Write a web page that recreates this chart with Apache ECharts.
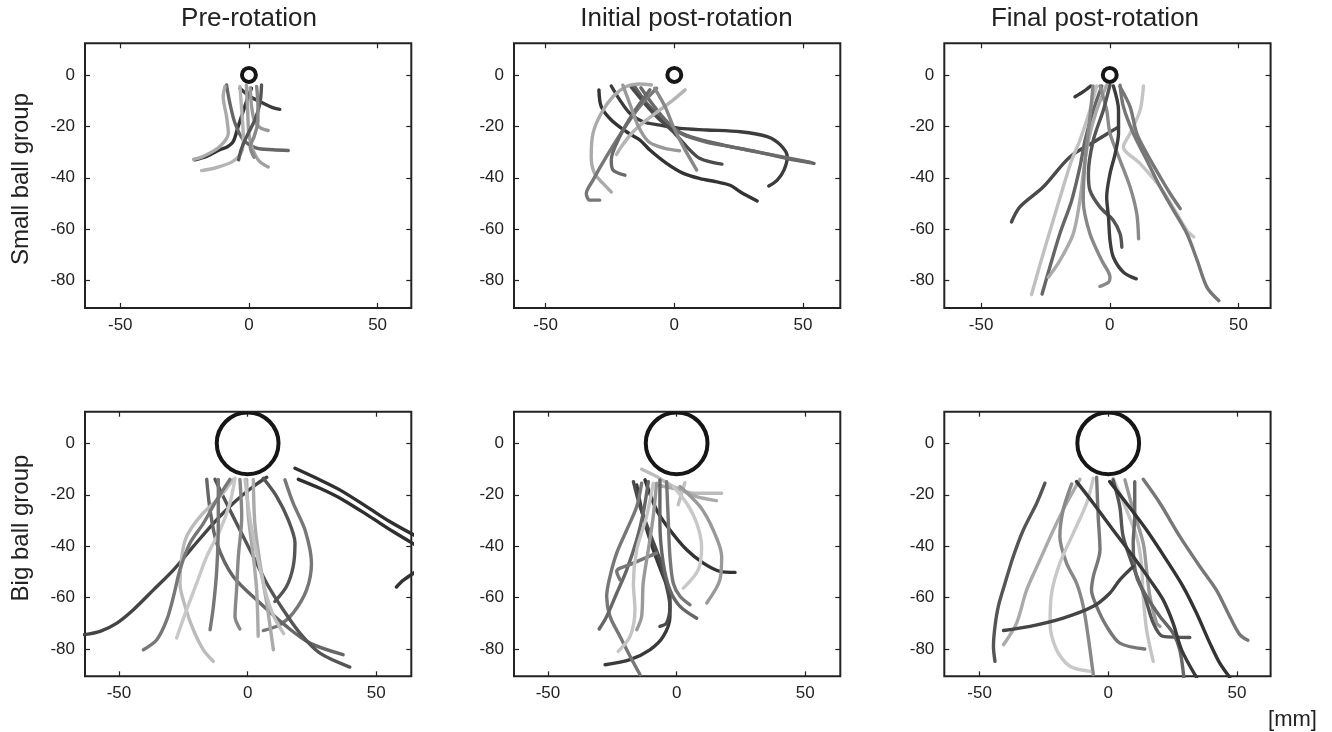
<!DOCTYPE html>
<html>
<head>
<meta charset="utf-8">
<title>Hand trajectories</title>
<script src="https://cdn.jsdelivr.net/npm/echarts@6/dist/echarts.min.js"></script>
<style>
  html, body { margin: 0; padding: 0; background: #ffffff; }
  #chart { width: 1332px; height: 732px; }
</style>
</head>
<body>
<div id="chart"></div>
<script>
// ---- labels and ticks ----
const columnTitles = ['Pre-rotation', 'Initial post-rotation', 'Final post-rotation'];
const rowLabels = ['Small ball group', 'Big ball group'];
const unitLabel = '[mm]';
const xTicks = [-50, 0, 50];
const yTicks = [0, -20, -40, -60, -80];

// ball outline (centre x, centre y, radius in mm) per row
const smallBall = [0, 0, 2.7];
const bigBall = [0, 0, 12];

// ---- trajectories [x mm, y mm] ----
const preSmall = [
  [[1.0,-5.2],[-0.3,-8.5],[-1.6,-12.3],[-3,-16.5],[-4.2,-20.1],[-6.1,-25.9],[-8.5,-28],[-11.3,-29.1],[-16.4,-31.7],[-21,-33]],
  [[-3.5,-5.2],[0.4,-8.4],[5.6,-11],[9,-12.6],[12,-13.4]],
  [[-8.7,-3.9],[-7.4,-11],[-5.4,-18.8],[-2.2,-25.2],[3,-28.5],[9.4,-29.1],[15.3,-29.4]],
  [[-9.3,-4.5],[-10,-8.4],[-8.7,-16.2],[-8,-22.6],[-11.3,-27.8],[-17.8,-31.7],[-21.5,-32.8]],
  [[-3.5,-4.5],[-2.8,-13.6],[-2.2,-24],[-2.8,-29.8],[-6.1,-33.5],[-12.5,-36],[-18.4,-37.2]],
  [[-1,-4],[-0.5,-14],[0,-23],[1.5,-29],[4,-33.5],[7.5,-35.8]],
  [[0.5,-5],[1,-12],[2.2,-18],[4.5,-20.6],[7.5,-21.6]],
  [[4.9,-3.9],[4.3,-11],[2.3,-17.5],[-0.9,-24],[-3,-29],[-4,-33]],
  [[3,-4.5],[3.5,-12],[3.5,-18],[2,-24],[0.5,-28],[2,-32]]
];
const preSmallShade = ['#333333','#3c3c3c','#666666','#aaaaaa','#b4b4b4','#a0a0a0','#999999','#555555','#888888'];

const initSmall = [
  [[-29.3,-5.8],[-28.4,-12.3],[-24.5,-17.5],[-18.6,-22.1],[-13.4,-25.3],[-9.5,-29.2],[-3,-34.4],[3.5,-38.3],[10,-40.3],[16.5,-41.6],[21.7,-42.9],[25.7,-45.5],[32.2,-49]],
  [[-24.5,-4.3],[-21.2,-9.7],[-17.3,-14.9],[-12.1,-18.2],[-5.6,-19.5],[2.2,-20.8],[12.6,-21.4],[25.7,-22.1],[36.1,-24],[41.3,-27.3],[43.9,-31.8],[42.6,-37],[40,-40.9],[36.7,-43.2]],
  [[-15.4,-4.5],[-10.8,-11],[-5.6,-16.2],[-0.4,-20.8],[6.1,-24],[19.1,-27.3],[32.2,-29.9],[43.9,-32.5],[54.3,-34.4]],
  [[-13,-5],[-8,-12],[-3,-18],[3,-23],[12,-26],[25,-28.5],[40,-31.5],[53,-34]],
  [[-16.7,-4.8],[-12.1,-10.4],[-6.9,-16.2],[-0.4,-22.1],[4.8,-27.9],[10,-32.5],[18.5,-34.7]],
  [[-8.9,-3.9],[-13.4,-3.5],[-18.6,-4.5],[-23.8,-8.4],[-28.4,-14.9],[-31.6,-22.7],[-32.3,-31.8],[-31,-38.3],[-27.7,-42.2],[-24.5,-45.5]],
  [[-6.9,-5.2],[-13.4,-12.3],[-19.9,-21.4],[-26.4,-31.8],[-31.6,-40.9],[-34.2,-46.1],[-32.9,-48.7],[-29,-48.7]],
  [[-9.5,-5.8],[-16,-14.9],[-21.2,-24],[-24.5,-33.1],[-23.8,-37],[-19.2,-39]],
  [[4.2,-5.8],[-0.4,-9.7],[-5.6,-13.6],[-10.8,-17.5],[-16,-22.1],[-20.6,-27.9],[-22.5,-31]],
  [[-7.6,-5.2],[-3.6,-12.3],[-0.4,-20.1],[3.5,-27.9],[8.7,-37]],
  [[-20,-4],[-17,-12],[-14,-20],[-10,-26],[-4,-28.5],[2,-29.5]]
];
const initSmallShade = ['#333333','#3c3c3c','#606060','#6a6a6a','#4a4a4a','#aaaaaa','#777777','#6a6a6a','#b4b4b4','#888888','#999999'];

const finalSmall = [
  [[3.4,-20.2],[-5.1,-25.4],[-15.5,-31.9],[-25.9,-43.6],[-35,-51.4],[-38.2,-57.2]],
  [[-13.5,-8.5],[-10.3,-6.5],[-7.4,-4.3]],
  [[-3.1,-4.3],[-6.4,-13.7],[-9.6,-25.4],[-11.6,-35.8],[-14.8,-48.8],[-19.4,-61.8],[-23.3,-74.8],[-26.3,-85.2]],
  [[-5.1,-4.3],[-7.7,-13.7],[-11.6,-25.4],[-14.8,-33.2],[-18.1,-43.6],[-22,-56.6],[-25.9,-69.6],[-28.5,-78.7],[-30.4,-85.4]],
  [[-1.2,-3.9],[-5.1,-13.7],[-8.3,-25.4],[-10.3,-38.4],[-11.6,-48.8],[-14.2,-61.8],[-19.4,-72.2],[-23.9,-78.7]],
  [[-6.5,-4.3],[-7.7,-16.3],[-9.6,-33.2],[-10.3,-48.8],[-7.7,-61.8],[-3.1,-72.2],[0.1,-78.7],[-0.5,-80.6],[-3.8,-82.2]],
  [[13.1,-4.3],[11.8,-13.7],[7.9,-22.8],[5.3,-28],[11.8,-34.5],[19.6,-43.6],[26.1,-54],[30,-60.5],[32.6,-63]],
  [[4,-4.6],[7.9,-12.4],[10.5,-22.8],[14.4,-30.6],[19.6,-39.7],[23.5,-46.2],[27.4,-52]],
  [[4,-4],[5.3,-12.4],[9.2,-22.8],[14.4,-33.2],[19.6,-43.6],[24.8,-52.7],[30,-61.8],[34,-72.2],[37.8,-82.6],[42.4,-87.8]],
  [[-3.8,-4.3],[-1.2,-13.7],[0.1,-22.8],[4,-33.2],[7.9,-43.6],[10.5,-54],[11.2,-63.7]],
  [[0.1,-3.9],[-2.5,-13.7],[-6.4,-25.4],[-8.3,-38.4],[-7.7,-44.9],[-3.8,-51.4],[1.4,-56.6],[4,-61.8],[4.7,-67]],
  [[1.4,-4.3],[3.4,-13.7],[3.4,-22.8],[2.1,-30.6],[0.1,-38.4],[-1.2,-47.5],[-0.5,-55.3],[0.1,-64.4],[1.4,-70.9],[5.3,-76.7],[10.3,-79.3]]
];
const finalSmallShade = ['#4a4a4a','#3a3a3a','#666666','#c0c0c0','#aaaaaa','#888888','#c4c4c4','#777777','#777777','#8a8a8a','#555555','#3d3d3d'];

const preBig = [
  [[7.4,-13.2],[2.2,-16.8],[-5.6,-23.3],[-13.3,-31.1],[-21.1,-40.1],[-28.8,-49.2],[-36.6,-57],[-44.4,-64.7],[-50.8,-69.9],[-57.3,-73.1],[-63.5,-74.4]],
  [[18.4,-9.7],[26.8,-13.6],[35.8,-18.1],[46.2,-24.6],[55.2,-30.4],[66,-36.4]],
  [[19.7,-14],[28.1,-17.5],[37.1,-22],[47.5,-28.5],[56.5,-34.3],[66,-40]],
  [[57.8,-55.9],[60.4,-53.3],[66,-49.5]],
  [[6.1,-13.6],[11.3,-20.7],[15.8,-29.8],[18.4,-38.8],[17.7,-47.9],[15.1,-55.7],[10.6,-61.5]],
  [[14.5,-14.2],[17.7,-23.3],[22.3,-33.7],[24.8,-46.6],[22.9,-57],[17.7,-66],[12.5,-70.6],[6.1,-72.8]],
  [[-15.9,-14],[-14.6,-25.9],[-12,-38.8],[-5.6,-51.8],[4.8,-62.1],[15.1,-71.2],[24.2,-77.7],[37.1,-82.2]],
  [[-12.7,-14],[-8.2,-23.3],[-3,-33.7],[2.2,-44],[7.4,-54.4],[13.8,-64.7],[20.3,-73.8],[28.1,-81.6],[39.7,-87]],
  [[-5.6,-14],[-10.7,-20.7],[-18.5,-28.5],[-23.7,-36.2],[-25.6,-44],[-26.3,-54.4],[-24.3,-63.4],[-21.1,-72.5],[-17.2,-80.3],[-13.3,-84.8]],
  [[-6.9,-14],[-12,-22],[-17.2,-31.1],[-22.4,-38.8],[-26.3,-49.2],[-28.8,-59.5],[-31.4,-68.6],[-35.3,-76.4],[-40.5,-80.3]],
  [[-4.9,-13.6],[-6.9,-23.3],[-10.7,-33.7],[-15.9,-44],[-19.8,-54.4],[-23.7,-64.7],[-27.6,-75.7]],
  [[-3,-14],[-2.3,-28.5],[-3.6,-44],[-4.3,-57],[-4.9,-67.3],[-3,-72.2]],
  [[-0.4,-14],[0.3,-28.5],[2.2,-44],[3.5,-57],[4.1,-75]],
  [[-11.4,-14],[-11.4,-31.1],[-12,-49.2],[-13.3,-63.4],[-14.6,-72.5]],
  [[2.2,-14],[2.8,-31.1],[4.8,-46.6],[7.4,-62.1],[10,-80.3]],
  [[-1,-14],[1,-30],[4,-45],[7,-58],[10,-67],[14,-74]]
];
const preBigShade = ['#444444','#2f2f2f','#2f2f2f','#333333','#555555','#777777','#666666','#555555','#bbbbbb','#777777','#c8c8c8','#888888','#aaaaaa','#777777','#aaaaaa','#c0c0c0'];

const initBig = [
  [[-12.3,-14.2],[-7.8,-25.9],[-2.6,-33.7],[3.9,-41.4],[10.4,-46.6],[16.8,-49.8],[22.7,-50.2]],
  [[-15.5,-16.2],[-13,-28.5],[-9.1,-41.4],[-5.2,-51.8],[-2.6,-59.5],[-2.6,-67.3],[-5.2,-75.1],[-10.4,-80.3],[-18.1,-84.1],[-27.8,-86.1]],
  [[-16.8,-14.9],[-14.2,-24.6],[-10.4,-35],[-6.5,-45.3],[-3.9,-55.7],[-2.6,-63.4],[-3.9,-69.9],[-6.5,-71.2]],
  [[-13.6,-15.5],[-15.5,-24.6],[-19.4,-33.7],[-23.3,-42.7],[-25.9,-51.8],[-27.2,-59.5],[-25.9,-67.3],[-22,-75.1],[-18.1,-82.8],[-14.2,-90]],
  [[-11,-14.9],[-13,-27.2],[-15.5,-37.5],[-19.4,-49.2],[-23.3,-58.3],[-27.2,-67.3],[-30.1,-72.2]],
  [[-7.8,-42.7],[-16.8,-46.6],[-23.3,-49.8],[-22,-53.1]],
  [[-13.6,-10.1],[-7.8,-12.9],[-1.3,-16.8],[6.5,-19.4],[17.5,-19.4]],
  [[-7.8,-16.2],[1.3,-18.1],[7.8,-20.7],[15.5,-22.3]],
  [[3.2,-15.3],[0.6,-23.9]],
  [[-1.3,-16.8],[3.9,-23.3],[7.8,-31.1],[9.7,-40.1],[8.4,-49.2],[2.6,-56.3]],
  [[1.3,-16.8],[9.1,-24.6],[14.2,-33.7],[17.5,-44],[16.8,-53.1],[11.7,-62.1]],
  [[-3.9,-14.9],[-3.2,-31.1],[-2.6,-44],[-1.3,-54.4],[1.3,-59.5],[5.2,-62.8]],
  [[-6.5,-14.2],[-6.5,-31.1],[-5.2,-46.6],[-2.6,-57],[1.3,-63.4],[7.8,-68]],
  [[-9.1,-15.5],[-11.7,-28.5],[-15.5,-41.4],[-16.8,-54.4],[-16.2,-64.7],[-18.1,-75.1],[-22.7,-80.9]],
  [[-7.8,-15.5],[-9.1,-28.5],[-11,-41.4],[-13,-54.4],[-13.6,-67.3],[-15.5,-72.5]]
];
const initBigShade = ['#333333','#3a3a3a','#4a4a4a','#777777','#666666','#777777','#bbbbbb','#aaaaaa','#c0c0c0','#c8c8c8','#999999','#777777','#666666','#c4c4c4','#999999'];

const finalBig = [
  [[-24.6,-15.5],[-27.8,-23.3],[-33,-33.7],[-36.9,-44],[-40.1,-54.4],[-42.7,-63.4],[-44,-71.2],[-44.6,-79],[-44,-84.8]],
  [[-11,-14],[-16.2,-23.3],[-21.3,-33.7],[-26.5,-45.3],[-31.7,-57],[-35.6,-69.9],[-40.7,-78.3]],
  [[-14.2,-15.8],[-17.5,-25.9],[-18.8,-36.2],[-16.2,-46.6],[-12.3,-54.4],[-9.7,-63.4],[-7.8,-75.1],[-5.8,-90]],
  [[-5.8,-13.6],[-8.4,-23.3],[-13.6,-35],[-18.8,-46.6],[-22,-58.3],[-22.6,-69.9],[-20.1,-80.3],[-14.9,-86.7],[-7.1,-88.7]],
  [[-4.5,-13.2],[-3.9,-28.5],[-3.2,-41.4],[-5.8,-51.8],[-6.5,-57],[-4.5,-63.4],[-0.6,-71.2],[4.5,-77.7],[14.2,-80]],
  [[1.9,-13.6],[7.1,-25.9],[11,-36.2],[12.9,-46.6],[13.6,-59.5],[14.9,-72.5],[17.5,-84.8]],
  [[6.5,-14.2],[9.7,-25.9],[13.6,-38.8],[14.9,-49.2],[16.2,-59.5],[18.8,-69.9],[20.1,-71.2]],
  [[1.9,-14.2],[4.5,-24.6],[5.8,-36.2],[9.7,-47.9],[14.2,-59.5],[17.5,-69.9],[21.3,-75.1],[31.7,-75.5]],
  [[10.3,-14.9],[10.3,-28.5],[9.7,-38.8],[11,-51.8],[14.9,-59.5],[20.1,-67.3],[25.2,-73.8],[27.8,-80.3],[29.4,-91]],
  [[13.6,-14],[20.1,-23.3],[27.8,-36.2],[35.6,-47.9],[42,-57],[47.2,-67.3],[51.1,-74.4],[54.3,-76.6]],
  [[-12.3,-14.9],[-5.8,-23.3],[1.9,-33.7],[9.7,-44],[16.2,-53.1],[21.3,-60.8],[25.2,-69.9],[28.5,-80.3],[34.3,-91]],
  [[0.6,-14.9],[7.1,-23.3],[14.9,-33.7],[22.6,-45.3],[29.1,-55.7],[34.3,-66],[39.5,-77.7],[43.3,-85.4],[47.2,-91]],
  [[-40.7,-72.8],[-30.4,-71.2],[-17.5,-68],[-5.8,-63.4],[0.6,-58.3],[4.5,-53.1],[9.7,-47.9]]
];
const finalBigShade = ['#555555','#aaaaaa','#888888','#c8c8c8','#777777','#c4c4c4','#999999','#555555','#666666','#777777','#3a3a3a','#333333','#444444'];

// ---- layout of the six panels ----
const FONT = "'Liberation Sans', Arial, Helvetica, sans-serif";
const INK = '#222222';
const colLeft = [85, 514, 944.3];
const rowTop = [43.3, 411.7];
const boxW = 326.3;
const boxH = 264.6;
const xLimits = [[-63.7, 63.1], [-62.3, 64.5], [-64.3, 62.5], [-63.2, 63.6], [-63.2, 63.6], [-63.7, 63.1]];
const yLimits = [-90.6, 12.3];

const panels = [
  { row: 0, col: 0, lines: preSmall, shades: preSmallShade, ball: smallBall },
  { row: 0, col: 1, lines: initSmall, shades: initSmallShade, ball: smallBall },
  { row: 0, col: 2, lines: finalSmall, shades: finalSmallShade, ball: smallBall },
  { row: 1, col: 0, lines: preBig, shades: preBigShade, ball: bigBall },
  { row: 1, col: 1, lines: initBig, shades: initBigShade, ball: bigBall },
  { row: 1, col: 2, lines: finalBig, shades: finalBigShade, ball: bigBall }
];

const grid = [], xAxis = [], yAxis = [], series = [];

panels.forEach(function (p, i) {
  grid.push({
    left: colLeft[p.col], top: rowTop[p.row], width: boxW, height: boxH,
    show: true, borderColor: INK, borderWidth: 2, backgroundColor: 'transparent',
    containLabel: false
  });
  const tickStyle = { inside: true, length: 5, lineStyle: { color: INK, width: 1.2 } };
  // box ticks on all four sides: bottom/left carry labels, top/right mirror them
  ['bottom', 'top'].forEach(function (pos) {
    xAxis.push({
      type: 'value', gridIndex: i, position: pos,
      min: xLimits[i][0], max: xLimits[i][1],
      axisLine: { show: false, onZero: false },
      axisTick: Object.assign({ customValues: xTicks }, tickStyle),
      axisLabel: {
        show: pos === 'bottom', customValues: xTicks, margin: 9,
        fontSize: 17, color: INK, fontFamily: FONT
      },
      splitLine: { show: false }
    });
  });
  ['left', 'right'].forEach(function (pos) {
    yAxis.push({
      type: 'value', gridIndex: i, position: pos,
      min: yLimits[0], max: yLimits[1],
      axisLine: { show: false, onZero: false },
      axisTick: Object.assign({ customValues: yTicks }, tickStyle),
      axisLabel: {
        show: pos === 'left', customValues: yTicks, margin: 10,
        fontSize: 17, color: INK, fontFamily: FONT
      },
      splitLine: { show: false }
    });
  });

  p.lines.forEach(function (pts, j) {
    series.push({
      type: 'line', xAxisIndex: 2 * i, yAxisIndex: 2 * i,
      data: pts, symbol: 'none', showSymbol: false, smooth: 0.3,
      clip: true, silent: true, z: 2,
      lineStyle: { color: p.shades[j], width: 3.4, cap: 'round', join: 'round' }
    });
  });

  // ball outline drawn in data units so its size follows the axes
  series.push({
    type: 'custom', xAxisIndex: 2 * i, yAxisIndex: 2 * i,
    data: [p.ball], clip: true, silent: true, z: 5,
    renderItem: function (params, api) {
      const c = api.coord([api.value(0), api.value(1)]);
      const r = api.size([api.value(2), 0])[0];
      return {
        type: 'circle',
        shape: { cx: c[0], cy: c[1], r: r },
        style: { fill: null, stroke: '#161616', lineWidth: 4 }
      };
    }
  });
});

const titleX = [249, 686.5, 1095];
const graphic = [];
columnTitles.forEach(function (t, k) {
  graphic.push({
    type: 'text', x: titleX[k], y: 18.5, silent: true,
    style: {
      text: t, fill: INK, font: '26px ' + FONT,
      textAlign: 'center', textVerticalAlign: 'middle',
      align: 'center', verticalAlign: 'middle'
    }
  });
});
const rowLabelY = [179, 528];
rowLabels.forEach(function (t, k) {
  graphic.push({
    type: 'text', x: 21, y: rowLabelY[k], rotation: Math.PI / 2, silent: true,
    style: {
      text: t, fill: INK, font: '24px ' + FONT,
      textAlign: 'center', textVerticalAlign: 'middle',
      align: 'center', verticalAlign: 'middle'
    }
  });
});
graphic.push({
  type: 'text', x: 1292.5, y: 720, silent: true,
  style: {
    text: unitLabel, fill: INK, font: '22px ' + FONT,
    textAlign: 'center', textVerticalAlign: 'middle',
    align: 'center', verticalAlign: 'middle'
  }
});

const chart = echarts.init(document.getElementById('chart'), null, { renderer: 'canvas' });
chart.setOption({
  animation: false,
  backgroundColor: '#ffffff',
  grid: grid,
  xAxis: xAxis,
  yAxis: yAxis,
  series: series,
  graphic: graphic
});
</script>
</body>
</html>
